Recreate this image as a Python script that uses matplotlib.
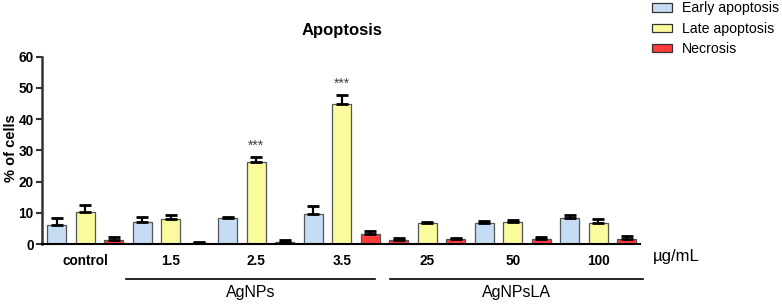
import matplotlib
matplotlib.use("Agg")
import matplotlib.pyplot as plt
from matplotlib.patches import Patch
import numpy as np

plt.rcParams['font.family'] = ['Liberation Sans', 'DejaVu Sans']

groups = ["control", "1.5", "2.5", "3.5", "25", "50", "100"]
series = ["Early apoptosis", "Late apoptosis", "Necrosis"]
early = [6.2, 7.0, 8.2, 9.6, 1.2, 6.6, 8.2]
early_err = [2.1, 1.6, 0.3, 2.7, 0.8, 0.9, 1.0]
late = [10.1, 7.9, 26.2, 44.7, 6.6, 7.1, 6.8]
late_err = [2.5, 1.3, 1.6, 2.9, 0.4, 0.7, 1.3]
necrosis = [1.2, 0.4, 0.75, 3.2, 1.5, 1.5, 1.5]
necrosis_err = [1.0, 0.3, 0.4, 1.1, 0.4, 0.7, 1.1]
# the early-apoptosis bar of the "25" group is drawn red in the reference
early_color_override = {4: "#ff3b3b"}
significance = {(2, 1): "***", (3, 1): "***"}
group_labels = ["AgNPs", "AgNPsLA"]
unit_label = "µg/mL"

colors = ["#c6dcf4", "#fbfb9e", "#ff3b3b"]
values = [early, late, necrosis]
errors = [early_err, late_err, necrosis_err]

fig = plt.figure(figsize=(7.82, 3.04), dpi=100)
ax = fig.add_axes([42/782, 1-244/304, (640-42)/782, (244-56.7)/304])

n = len(groups)
for s in range(3):
    x = np.arange(n) * 3 + s
    cols = [colors[s]] * n
    if s == 0:
        for k, c in early_color_override.items():
            cols[k] = c
    ax.bar(x, values[s], width=0.67, color=cols, edgecolor="#555555", linewidth=0.9, zorder=2)
    ax.errorbar(x, values[s], yerr=[np.zeros(n), errors[s]], fmt="none", ecolor="black",
                elinewidth=1.6, capsize=4.3, capthick=2.0, zorder=3)

for (g, s), txt in significance.items():
    xi = g * 3 + s
    top = values[s][g] + errors[s][g]
    ax.text(xi, top + 3.8, txt, ha="center", va="center", fontsize=10, color="#444444")

ax.set_xlim(-0.52, 20.46)
ax.set_ylim(0, 60)
ax.set_yticks([0, 10, 20, 30, 40, 50, 60])
ax.set_xticks(np.arange(n) * 3 + 1)
ax.set_xticklabels(groups, fontweight="bold", fontsize=9.8)
ax.tick_params(axis="x", length=0, pad=7)
ax.tick_params(axis="y", length=4, width=1.5, color="#333333", labelsize=9.8, pad=2)
for lab in ax.get_yticklabels():
    lab.set_fontweight("bold")
ax.spines["top"].set_visible(False)
ax.spines["right"].set_visible(False)
ax.spines["left"].set_linewidth(1.8)
ax.spines["left"].set_color("#333333")
ax.spines["bottom"].set_linewidth(1.5)
ax.spines["bottom"].set_color("black")
fig.text(11/782, 1-148/304, "% of cells", rotation=90, ha="center", va="center",
         fontweight="bold", fontsize=10.5)
fig.text(342/782, 1-30/304, "Apoptosis", ha="center", va="center", fontweight="bold", fontsize=12)

# unit label
fig.text(676/782, 1-257/304, unit_label, ha="center", va="center", fontsize=12)

# group lines and labels
line_spans = [(126, 375), (390, 643)]
for (x0, x1), lab in zip(line_spans, group_labels):
    fig.add_artist(plt.Line2D([x0/782, x1/782], [1-279/304, 1-279/304], color="black", linewidth=1.2))
    fig.text((x0 + x1) / 2 / 782, 1-293/304, lab, ha="center", va="center", fontsize=11.5)

handles = [Patch(facecolor=c, edgecolor="#333333", linewidth=0.9) for c in colors]
fig.legend(handles, series, loc="upper left", bbox_to_anchor=(651/782, 1.0), frameon=False,
           fontsize=10.2, handlelength=1.35, handleheight=0.55, handletextpad=0.75, labelspacing=0.45,
           borderaxespad=0.0, borderpad=0.1)

fig.savefig("out.png", dpi=100)
